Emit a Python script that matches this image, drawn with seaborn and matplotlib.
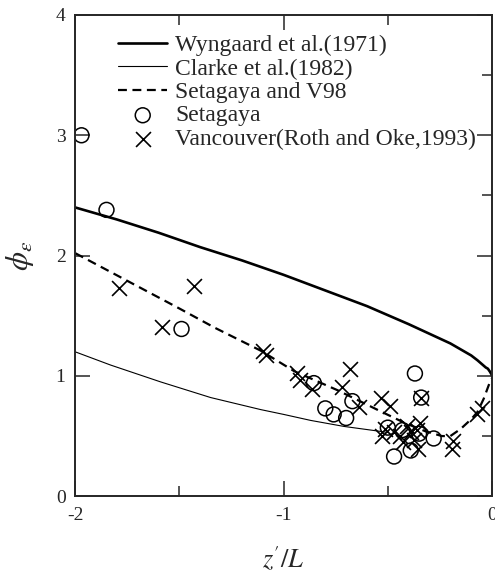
import numpy as np
import pandas as pd
import seaborn as sns
import matplotlib.pyplot as plt
from matplotlib.ticker import MultipleLocator

# ---------------- data ----------------
# Wyngaard et al. (1971)
wyn_x = [-2.0, -1.8, -1.6, -1.4, -1.2, -1.0, -0.8, -0.6, -0.4, -0.3, -0.25, -0.2, -0.15, -0.1, -0.07,
         -0.05, -0.03, -0.02, -0.01, -0.005, -0.002, 0.0]
wyn_y = [2.40, 2.30, 2.19, 2.07, 1.96, 1.84, 1.71, 1.58, 1.43, 1.35, 1.31, 1.27, 1.22, 1.17, 1.13,
         1.10, 1.07, 1.06, 1.035, 1.02, 1.012, 1.0]

# Clarke et al. (1982)
clk_x = [-2.0, -1.83, -1.59, -1.35, -1.11, -1.0, -0.87, -0.71, -0.54, -0.50]
clk_y = [1.20, 1.09, 0.95, 0.82, 0.72, 0.68, 0.63, 0.58, 0.54, 0.53]

# Setagaya and V98 (fit)
das_x = [-2.0, -1.75, -1.5, -1.33, -1.11, -0.95, -0.74, -0.54, -0.42, -0.32, -0.24, -0.20, -0.15, -0.10, -0.07, -0.04, -0.01, 0.0]
das_y = [2.02, 1.79, 1.56, 1.40, 1.21, 1.04, 0.88, 0.71, 0.61, 0.54, 0.50, 0.50, 0.56, 0.64, 0.70, 0.81, 0.95, 0.98]

# Setagaya observations
set_x = [-1.97, -1.85, -1.49, -0.855, -0.80, -0.76, -0.70, -0.67, -0.37, -0.34, -0.47, -0.39, -0.28, -0.50, -0.43, -0.35]
set_y = [3.00, 2.38, 1.39, 0.94, 0.73, 0.68, 0.65, 0.79, 1.02, 0.82, 0.33, 0.38, 0.48, 0.57, 0.55, 0.52]

# Vancouver (Roth and Oke, 1993)
van_x = [-1.79, -1.43, -1.585, -1.10, -1.085, -0.935, -0.92, -0.865, -0.68, -0.72, -0.64, -0.535, -0.49,
         -0.515, -0.53, -0.44, -0.39, -0.345, -0.355, -0.375, -0.34, -0.425, -0.19, -0.185, -0.07, -0.05,
         -0.47, -0.41, -0.36]
van_y = [1.73, 1.75, 1.41, 1.21, 1.175, 1.02, 0.97, 0.89, 1.06, 0.905, 0.74, 0.82, 0.75,
         0.56, 0.50, 0.50, 0.53, 0.61, 0.39, 0.47, 0.82, 0.45, 0.39, 0.46, 0.68, 0.73,
         0.53, 0.58, 0.55]

labels = ['Wyngaard et al.(1971)', 'Clarke et al.(1982)', 'Setagaya and V98',
          'Setagaya', 'Vancouver(Roth and Oke,1993)']

x_ticks = [-2, -1, 0]
x_ticklabels = ['-2', '-1', '0']

#----------------------------------------------------------
sns.set_style('ticks')
plt.rcParams['font.family'] = ['Liberation Serif', 'DejaVu Serif']
plt.rcParams['mathtext.fontset'] = 'stix'

fig = plt.figure(figsize=(4.95, 5.75), dpi=100)
ax = fig.add_axes([0.152, 0.137, 0.842, 0.837])

sns.lineplot(x=wyn_x, y=wyn_y, ax=ax, color='black', linewidth=1.9, estimator=None, label=labels[0])
sns.lineplot(x=clk_x, y=clk_y, ax=ax, color='black', linewidth=0.8, estimator=None, label=labels[1])
sns.lineplot(x=das_x, y=das_y, ax=ax, color='black', linewidth=1.6, estimator=None, label=labels[2])
ax.lines[-1].set_dashes([4, 2.5])

sns.scatterplot(x=set_x, y=set_y, ax=ax, marker='o', s=115, color='black', linewidth=1.1, label=labels[3])
ax.collections[-1].set_facecolor('none')
ax.collections[-1].set_edgecolor('black')
sns.scatterplot(x=van_x, y=van_y, ax=ax, marker='x', s=115, color='black', linewidth=1.2, label=labels[4])

ax.set_xlim(-2, 0)
ax.set_ylim(0, 4)
ax.set_xticks(x_ticks, labels=x_ticklabels)
ax.xaxis.set_minor_locator(MultipleLocator(0.5))
ax.yaxis.set_major_locator(MultipleLocator(1))
ax.yaxis.set_minor_locator(MultipleLocator(0.5))

ax.tick_params(which='both', direction='in', top=True, right=True, width=1.1, labelsize=14)
ax.tick_params(which='major', length=10.8)
ax.tick_params(which='minor', length=7.2, left=False)
ax.tick_params(axis='x', pad=8)
ax.tick_params(axis='y', pad=7)
for sp in ax.spines.values():
    sp.set_linewidth(1.4)

ax.set_xlabel(r"$z'/L$", fontsize=19, labelpad=15)
ax.set_ylabel(r'$\phi_{\varepsilon}$', fontsize=22, labelpad=14)

leg = ax.legend(loc='upper left', bbox_to_anchor=(0.103, 0.959), frameon=False, fontsize=17,
                borderpad=0, borderaxespad=0, handlelength=2.08, handletextpad=0.34, labelspacing=0.08)

plt.savefig('out.png', dpi=100)
